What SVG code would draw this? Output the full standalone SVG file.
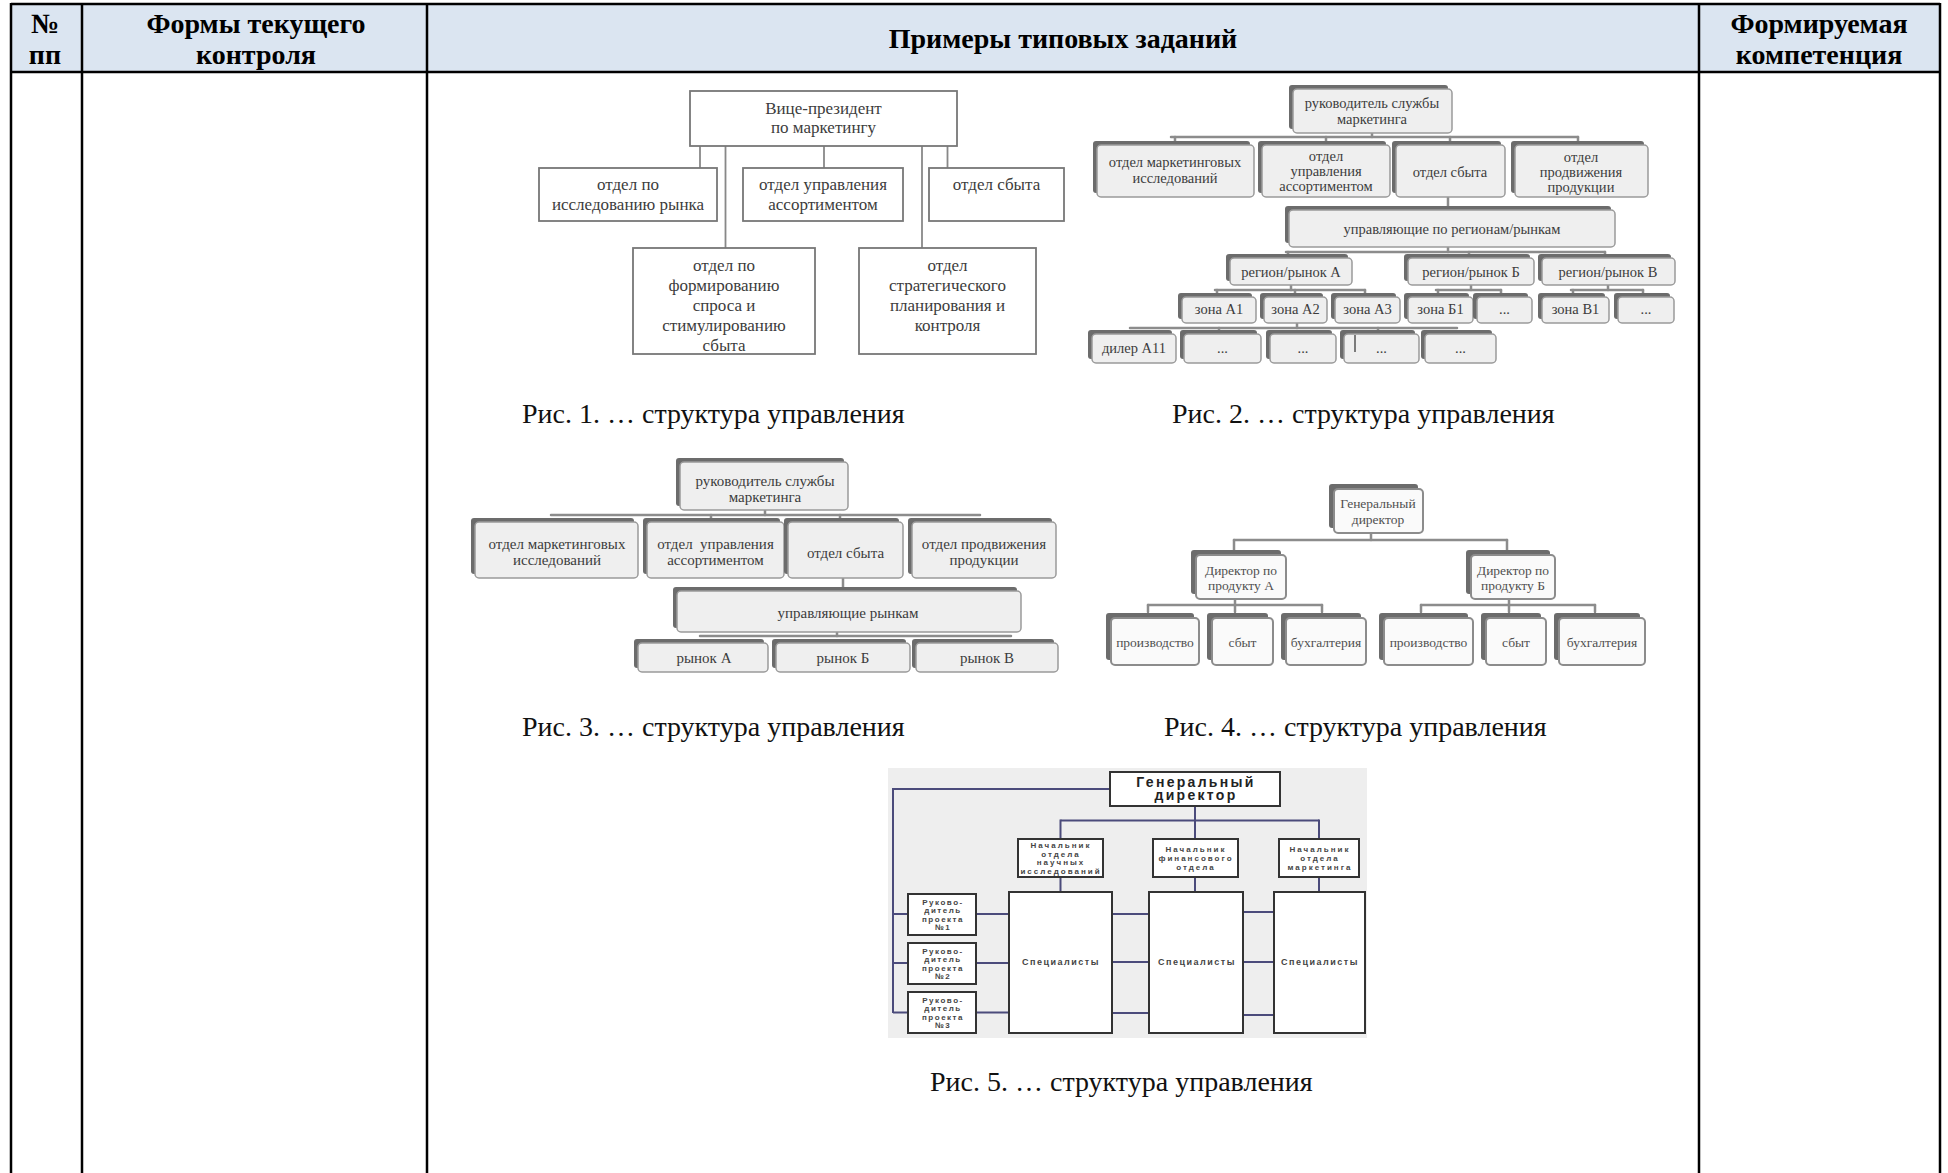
<svg xmlns="http://www.w3.org/2000/svg" width="1948" height="1173" viewBox="0 0 1948 1173">
<style>
.hd{font-family:"Liberation Serif","Times New Roman",serif;font-weight:bold;font-size:28px;fill:#000;text-anchor:middle}
.cap{font-family:"Liberation Serif","Times New Roman",serif;font-size:28px;fill:#111}
.tl{stroke:#000;stroke-width:2.5;fill:none}
.b1{fill:#fff;stroke:#777;stroke-width:1.8}
.c1{stroke:#888;stroke-width:1.8;fill:none}
.t1{font-family:"Liberation Serif","Times New Roman",serif;font-size:17px;fill:#3c3c3c;text-anchor:middle}
.sh{fill:#6c6c6c}
.b2{fill:#efefef;stroke:#9a9a9a;stroke-width:1.5}
.c2{stroke:#8c8c8c;stroke-width:2.5;stroke-linecap:round;fill:none}
.t2{font-family:"Liberation Serif","Times New Roman",serif;font-size:14.5px;fill:#3c3c3c;text-anchor:middle}
.t3{font-family:"Liberation Serif","Times New Roman",serif;font-size:15px;fill:#3c3c3c;text-anchor:middle}
.b4{fill:#fafafa;stroke:#8c8c8c;stroke-width:2}
.t4{font-family:"Liberation Serif","Times New Roman",serif;font-size:13.5px;fill:#505050;text-anchor:middle}
.b5{fill:#fff;stroke:#333;stroke-width:2}
.c5{stroke:#4b4b7b;stroke-width:2;fill:none}
.t5{font-family:"Liberation Sans",Arial,sans-serif;font-weight:bold;font-size:8px;letter-spacing:2px;fill:#444;text-anchor:middle}
.t5p{font-family:"Liberation Sans",Arial,sans-serif;font-weight:bold;font-size:8px;letter-spacing:1.5px;fill:#444;text-anchor:middle}
.t5b{font-family:"Liberation Sans",Arial,sans-serif;font-weight:bold;font-size:14px;letter-spacing:2.3px;fill:#222;text-anchor:middle}
.t5s{font-family:"Liberation Sans",Arial,sans-serif;font-weight:bold;font-size:9px;letter-spacing:1.5px;fill:#444;text-anchor:middle}
</style>

<!-- table -->
<g id="table">
<rect x="11" y="4" width="1929" height="68" fill="#dbe5f1"/>
<line class="tl" x1="11" y1="4" x2="1940" y2="4" stroke-width="3"/>
<line class="tl" x1="11" y1="72" x2="1940" y2="72"/>
<line class="tl" x1="11" y1="3" x2="11" y2="1173"/>
<line class="tl" x1="82" y1="3" x2="82" y2="1173"/>
<line class="tl" x1="427" y1="3" x2="427" y2="1173"/>
<line class="tl" x1="1699" y1="3" x2="1699" y2="1173"/>
<line class="tl" x1="1940" y1="3" x2="1940" y2="1173"/>
<text class="hd" x="45" y="33">№</text>
<text class="hd" x="45" y="64">пп</text>
<text class="hd" x="256" y="33">Формы текущего</text>
<text class="hd" x="256" y="64">контроля</text>
<text class="hd" x="1063" y="48">Примеры типовых заданий</text>
<text class="hd" x="1819" y="33">Формируемая</text>
<text class="hd" x="1819" y="64">компетенция</text>
</g>

<!-- ===== Fig 1 ===== -->
<g id="fig1-connectors">
<line class="c1" x1="700" y1="146" x2="700" y2="168"/>
<line class="c1" x1="725.5" y1="146" x2="725.5" y2="248"/>
<line class="c1" x1="824" y1="146" x2="824" y2="168"/>
<line class="c1" x1="922" y1="146" x2="922" y2="248"/>
<line class="c1" x1="947.5" y1="146" x2="947.5" y2="168"/>
</g>
<g id="f1-vp"><rect class="b1" x="690" y="91" width="267" height="55"/><text class="t1" x="823.5" y="113.5">Вице-президент</text><text class="t1" x="823.5" y="133">по маркетингу</text></g>
<g id="f1-research"><rect class="b1" x="539" y="168" width="178" height="53"/><text class="t1" x="628" y="189.5">отдел по</text><text class="t1" x="628" y="209.5">исследованию рынка</text></g>
<g id="f1-assort"><rect class="b1" x="743" y="168" width="160" height="53"/><text class="t1" x="823" y="189.5">отдел управления</text><text class="t1" x="823" y="209.5">ассортиментом</text></g>
<g id="f1-sales"><rect class="b1" x="929" y="168" width="135" height="53"/><text class="t1" x="996.5" y="189.5">отдел сбыта</text></g>
<g id="f1-demand"><rect class="b1" x="633" y="248" width="182" height="106"/><text class="t1" x="724" y="270.5">отдел по</text><text class="t1" x="724" y="290.5">формированию</text><text class="t1" x="724" y="310.5">спроса и</text><text class="t1" x="724" y="330.5">стимулированию</text><text class="t1" x="724" y="350.5">сбыта</text></g>
<g id="f1-strategy"><rect class="b1" x="859" y="248" width="177" height="106"/><text class="t1" x="947.5" y="270.5">отдел</text><text class="t1" x="947.5" y="290.5">стратегического</text><text class="t1" x="947.5" y="310.5">планирования и</text><text class="t1" x="947.5" y="330.5">контроля</text></g>
<text class="cap" x="522" y="423">Рис. 1. … структура управления</text>

<!-- ===== Fig 2 ===== -->
<g id="fig2-connectors">
<line class="c2" x1="1372" y1="133" x2="1372" y2="137"/>
<line class="c2" x1="1171" y1="137" x2="1578" y2="137"/>
<line class="c2" x1="1175" y1="137" x2="1175" y2="141"/>
<line class="c2" x1="1326" y1="137" x2="1326" y2="141"/>
<line class="c2" x1="1450" y1="137" x2="1450" y2="141"/>
<line class="c2" x1="1578" y1="137" x2="1578" y2="141"/>
<line class="c2" x1="1448" y1="197" x2="1448" y2="206"/>
<line class="c2" x1="1448" y1="247" x2="1448" y2="252"/>
<line class="c2" x1="1286" y1="252" x2="1605" y2="252"/>
<line class="c2" x1="1288" y1="252" x2="1288" y2="255"/>
<line class="c2" x1="1469" y1="252" x2="1469" y2="255"/>
<line class="c2" x1="1605" y1="252" x2="1605" y2="255"/>
<line class="c2" x1="1291" y1="285" x2="1291" y2="290"/>
<line class="c2" x1="1215" y1="290" x2="1365" y2="290"/>
<line class="c2" x1="1217" y1="290" x2="1217" y2="293"/>
<line class="c2" x1="1295" y1="290" x2="1295" y2="293"/>
<line class="c2" x1="1365" y1="290" x2="1365" y2="293"/>
<line class="c2" x1="1471" y1="285" x2="1471" y2="290"/>
<line class="c2" x1="1436" y1="290" x2="1501" y2="290"/>
<line class="c2" x1="1438" y1="290" x2="1438" y2="293"/>
<line class="c2" x1="1501" y1="290" x2="1501" y2="293"/>
<line class="c2" x1="1608" y1="285" x2="1608" y2="290"/>
<line class="c2" x1="1571" y1="290" x2="1643" y2="290"/>
<line class="c2" x1="1573" y1="290" x2="1573" y2="293"/>
<line class="c2" x1="1643" y1="290" x2="1643" y2="293"/>
<line class="c2" x1="1297" y1="323" x2="1297" y2="328"/>
<line class="c2" x1="1130" y1="328" x2="1457" y2="328"/>
<line class="c2" x1="1219" y1="328" x2="1219" y2="330"/>
<line class="c2" x1="1378" y1="328" x2="1378" y2="330"/>
</g>
<g id="f2-head"><rect class="sh" x="1289" y="85" width="159" height="44" rx="3"/><rect class="b2" x="1293" y="89" width="159" height="44" rx="4"/><text class="t2" x="1372" y="108">руководитель службы</text><text class="t2" x="1372" y="124">маркетинга</text></g>
<g id="f2-research"><rect class="sh" x="1093" y="141" width="157" height="52" rx="3"/><rect class="b2" x="1097" y="145" width="157" height="52" rx="4"/><text class="t2" x="1175" y="166.5">отдел маркетинговых</text><text class="t2" x="1175" y="182.5">исследований</text></g>
<g id="f2-assort"><rect class="sh" x="1258" y="141" width="128" height="52" rx="3"/><rect class="b2" x="1262" y="145" width="128" height="52" rx="4"/><text class="t2" x="1326" y="160.5">отдел</text><text class="t2" x="1326" y="175.5">управления</text><text class="t2" x="1326" y="191">ассортиментом</text></g>
<g id="f2-sales"><rect class="sh" x="1392" y="141" width="109" height="52" rx="3"/><rect class="b2" x="1396" y="145" width="109" height="52" rx="4"/><text class="t2" x="1450" y="176.5">отдел сбыта</text></g>
<g id="f2-promo"><rect class="sh" x="1511" y="141" width="133" height="52" rx="3"/><rect class="b2" x="1515" y="145" width="133" height="52" rx="4"/><text class="t2" x="1581" y="162">отдел</text><text class="t2" x="1581" y="177">продвижения</text><text class="t2" x="1581" y="192">продукции</text></g>
<g id="f2-managers"><rect class="sh" x="1285" y="206" width="326" height="37" rx="3"/><rect class="b2" x="1289" y="210" width="326" height="37" rx="4"/><text class="t2" x="1452" y="233.5">управляющие по регионам/рынкам</text></g>
<g id="f2-regA"><rect class="sh" x="1226" y="254" width="122" height="27" rx="3"/><rect class="b2" x="1230" y="258" width="122" height="27" rx="4"/><text class="t2" x="1291" y="277">регион/рынок А</text></g>
<g id="f2-regB"><rect class="sh" x="1404" y="254" width="126" height="27" rx="3"/><rect class="b2" x="1408" y="258" width="126" height="27" rx="4"/><text class="t2" x="1471" y="277">регион/рынок Б</text></g>
<g id="f2-regV"><rect class="sh" x="1538" y="254" width="133" height="27" rx="3"/><rect class="b2" x="1542" y="258" width="133" height="27" rx="4"/><text class="t2" x="1608" y="277">регион/рынок В</text></g>
<g id="f2-zA1"><rect class="sh" x="1178" y="293" width="74" height="26" rx="3"/><rect class="b2" x="1182" y="297" width="74" height="26" rx="4"/><text class="t2" x="1219" y="314">зона А1</text></g>
<g id="f2-zA2"><rect class="sh" x="1260" y="293" width="63" height="26" rx="3"/><rect class="b2" x="1264" y="297" width="63" height="26" rx="4"/><text class="t2" x="1295.5" y="314">зона А2</text></g>
<g id="f2-zA3"><rect class="sh" x="1331" y="293" width="65" height="26" rx="3"/><rect class="b2" x="1335" y="297" width="65" height="26" rx="4"/><text class="t2" x="1367.5" y="314">зона А3</text></g>
<g id="f2-zB1"><rect class="sh" x="1404" y="293" width="65" height="26" rx="3"/><rect class="b2" x="1408" y="297" width="65" height="26" rx="4"/><text class="t2" x="1440.5" y="314">зона Б1</text></g>
<g id="f2-zB2"><rect class="sh" x="1473" y="293" width="55" height="26" rx="3"/><rect class="b2" x="1477" y="297" width="55" height="26" rx="4"/><text class="t2" x="1504.5" y="314">...</text></g>
<g id="f2-zV1"><rect class="sh" x="1538" y="293" width="67" height="26" rx="3"/><rect class="b2" x="1542" y="297" width="67" height="26" rx="4"/><text class="t2" x="1575.5" y="314">зона В1</text></g>
<g id="f2-zV2"><rect class="sh" x="1614" y="293" width="56" height="26" rx="3"/><rect class="b2" x="1618" y="297" width="56" height="26" rx="4"/><text class="t2" x="1646" y="314">...</text></g>
<g id="f2-d1"><rect class="sh" x="1088" y="330" width="84" height="29" rx="3"/><rect class="b2" x="1092" y="334" width="84" height="29" rx="4"/><text class="t2" x="1134" y="352.5">дилер А11</text></g>
<g id="f2-d2"><rect class="sh" x="1180" y="330" width="77" height="29" rx="3"/><rect class="b2" x="1184" y="334" width="77" height="29" rx="4"/><text class="t2" x="1222.5" y="352.5">...</text></g>
<g id="f2-d3"><rect class="sh" x="1266" y="330" width="66" height="29" rx="3"/><rect class="b2" x="1270" y="334" width="66" height="29" rx="4"/><text class="t2" x="1303" y="352.5">...</text></g>
<g id="f2-d4"><rect class="sh" x="1340" y="330" width="75" height="29" rx="3"/><rect class="b2" x="1344" y="334" width="75" height="29" rx="4"/><line x1="1355" y1="335" x2="1355" y2="352" stroke="#555" stroke-width="1.5"/><text class="t2" x="1381.5" y="352.5">...</text></g>
<g id="f2-d5"><rect class="sh" x="1421" y="330" width="71" height="29" rx="3"/><rect class="b2" x="1425" y="334" width="71" height="29" rx="4"/><text class="t2" x="1460.5" y="352.5">...</text></g>
<text class="cap" x="1172" y="423">Рис. 2. … структура управления</text>

<!-- ===== Fig 3 ===== -->
<g id="fig3-connectors">
<line class="c2" x1="765" y1="510" x2="765" y2="515"/>
<line class="c2" x1="551" y1="515" x2="980" y2="515"/>
<line class="c2" x1="711" y1="515" x2="711" y2="518"/>
<line class="c2" x1="840" y1="515" x2="840" y2="518"/>
<line class="c2" x1="843" y1="578" x2="843" y2="587"/>
<line class="c2" x1="837" y1="632" x2="837" y2="636"/>
<line class="c2" x1="700" y1="636" x2="1011" y2="636"/>
</g>
<g id="f3-head"><rect class="sh" x="676" y="458" width="168" height="48" rx="3"/><rect class="b2" x="680" y="462" width="168" height="48" rx="4"/><text class="t3" x="765" y="485.5">руководитель службы</text><text class="t3" x="765" y="501.5">маркетинга</text></g>
<g id="f3-research"><rect class="sh" x="471" y="518" width="163" height="56" rx="3"/><rect class="b2" x="475" y="522" width="163" height="56" rx="4"/><text class="t3" x="557" y="548.5">отдел маркетинговых</text><text class="t3" x="557" y="565">исследований</text></g>
<g id="f3-assort"><rect class="sh" x="643" y="518" width="137" height="56" rx="3"/><rect class="b2" x="647" y="522" width="137" height="56" rx="4"/><text class="t3" x="715.5" y="548.5" xml:space="preserve">отдел  управления</text><text class="t3" x="715.5" y="565">ассортиментом</text></g>
<g id="f3-sales"><rect class="sh" x="784" y="518" width="115" height="56" rx="3"/><rect class="b2" x="788" y="522" width="115" height="56" rx="4"/><text class="t3" x="845.5" y="557.5">отдел сбыта</text></g>
<g id="f3-promo"><rect class="sh" x="908" y="518" width="144" height="56" rx="3"/><rect class="b2" x="912" y="522" width="144" height="56" rx="4"/><text class="t3" x="984" y="548.5">отдел продвижения</text><text class="t3" x="984" y="565">продукции</text></g>
<g id="f3-managers"><rect class="sh" x="673" y="587" width="344" height="41" rx="3"/><rect class="b2" x="677" y="591" width="344" height="41" rx="4"/><text class="t3" x="848" y="618">управляющие рынкам</text></g>
<g id="f3-mA"><rect class="sh" x="634" y="639" width="130" height="29" rx="3"/><rect class="b2" x="638" y="643" width="130" height="29" rx="4"/><text class="t3" x="704" y="663">рынок А</text></g>
<g id="f3-mB"><rect class="sh" x="772" y="639" width="134" height="29" rx="3"/><rect class="b2" x="776" y="643" width="134" height="29" rx="4"/><text class="t3" x="843" y="663">рынок Б</text></g>
<g id="f3-mV"><rect class="sh" x="912" y="639" width="142" height="29" rx="3"/><rect class="b2" x="916" y="643" width="142" height="29" rx="4"/><text class="t3" x="987" y="663">рынок В</text></g>
<text class="cap" x="522" y="736">Рис. 3. … структура управления</text>

<!-- ===== Fig 4 ===== -->
<g id="fig4-connectors">
<line class="c2" x1="1371" y1="533" x2="1371" y2="540"/>
<line class="c2" x1="1234" y1="540" x2="1507" y2="540"/>
<line class="c2" x1="1234" y1="540" x2="1234" y2="550"/>
<line class="c2" x1="1507" y1="540" x2="1507" y2="550"/>
<line class="c2" x1="1235" y1="599" x2="1235" y2="612"/>
<line class="c2" x1="1148" y1="605" x2="1322" y2="605"/>
<line class="c2" x1="1148" y1="605" x2="1148" y2="612"/>
<line class="c2" x1="1322" y1="605" x2="1322" y2="612"/>
<line class="c2" x1="1509" y1="599" x2="1509" y2="612"/>
<line class="c2" x1="1421" y1="605" x2="1595" y2="605"/>
<line class="c2" x1="1421" y1="605" x2="1421" y2="612"/>
<line class="c2" x1="1595" y1="605" x2="1595" y2="612"/>
</g>
<g id="f4-ceo"><rect class="sh" x="1329" y="484" width="89" height="44" rx="3"/><rect class="b4" x="1334" y="489" width="89" height="44" rx="4"/><text class="t4" x="1378" y="507.5">Генеральный</text><text class="t4" x="1378" y="523.5">директор</text></g>
<g id="f4-dirA"><rect class="sh" x="1191" y="550" width="90" height="44" rx="3"/><rect class="b4" x="1196" y="555" width="90" height="44" rx="4"/><text class="t4" x="1241" y="574.5">Директор по</text><text class="t4" x="1241" y="589.5">продукту А</text></g>
<g id="f4-dirB"><rect class="sh" x="1466" y="550" width="84" height="44" rx="3"/><rect class="b4" x="1471" y="555" width="84" height="44" rx="4"/><text class="t4" x="1513" y="574.5">Директор по</text><text class="t4" x="1513" y="589.5">продукту Б</text></g>
<g id="f4-a1"><rect class="sh" x="1106" y="613" width="88" height="47" rx="3"/><rect class="b4" x="1111" y="618" width="88" height="47" rx="4"/><text class="t4" x="1155" y="647">производство</text></g>
<g id="f4-a2"><rect class="sh" x="1207" y="613" width="61" height="47" rx="3"/><rect class="b4" x="1212" y="618" width="61" height="47" rx="4"/><text class="t4" x="1242.5" y="647">сбыт</text></g>
<g id="f4-a3"><rect class="sh" x="1281" y="613" width="80" height="47" rx="3"/><rect class="b4" x="1286" y="618" width="80" height="47" rx="4"/><text class="t4" x="1326" y="647">бухгалтерия</text></g>
<g id="f4-b1"><rect class="sh" x="1379" y="613" width="89" height="47" rx="3"/><rect class="b4" x="1384" y="618" width="89" height="47" rx="4"/><text class="t4" x="1428.5" y="647">производство</text></g>
<g id="f4-b2"><rect class="sh" x="1481" y="613" width="60" height="47" rx="3"/><rect class="b4" x="1486" y="618" width="60" height="47" rx="4"/><text class="t4" x="1516" y="647">сбыт</text></g>
<g id="f4-b3"><rect class="sh" x="1554" y="613" width="86" height="47" rx="3"/><rect class="b4" x="1559" y="618" width="86" height="47" rx="4"/><text class="t4" x="1602" y="647">бухгалтерия</text></g>
<text class="cap" x="1164" y="736">Рис. 4. … структура управления</text>

<!-- ===== Fig 5 ===== -->
<rect x="888" y="768" width="479" height="270" fill="#eeeeee"/>
<g id="fig5-connectors">
<line class="c5" x1="893" y1="789" x2="1110" y2="789"/>
<line class="c5" x1="893" y1="788" x2="893" y2="1013"/>
<line class="c5" x1="893" y1="914" x2="908" y2="914"/>
<line class="c5" x1="893" y1="963" x2="908" y2="963"/>
<line class="c5" x1="893" y1="1012.5" x2="908" y2="1012.5"/>
<line class="c5" x1="1195" y1="806" x2="1195" y2="839"/>
<line class="c5" x1="1060.5" y1="820.5" x2="1319" y2="820.5"/>
<line class="c5" x1="1060.5" y1="819.5" x2="1060.5" y2="839"/>
<line class="c5" x1="1319" y1="819.5" x2="1319" y2="839"/>
<line class="c5" x1="1060.5" y1="877" x2="1060.5" y2="892"/>
<line class="c5" x1="1195" y1="877" x2="1195" y2="892"/>
<line class="c5" x1="1319" y1="877" x2="1319" y2="892"/>
<line class="c5" x1="976" y1="914" x2="1009" y2="914"/>
<line class="c5" x1="976" y1="963" x2="1009" y2="963"/>
<line class="c5" x1="976" y1="1012.5" x2="1009" y2="1012.5"/>
<line class="c5" x1="1112" y1="914" x2="1149" y2="914"/>
<line class="c5" x1="1112" y1="962" x2="1149" y2="962"/>
<line class="c5" x1="1112" y1="1013" x2="1149" y2="1013"/>
<line class="c5" x1="1243" y1="912" x2="1274" y2="912"/>
<line class="c5" x1="1243" y1="962" x2="1274" y2="962"/>
<line class="c5" x1="1243" y1="1015" x2="1274" y2="1015"/>
</g>
<g id="f5-ceo"><rect class="b5" x="1110" y="772" width="170" height="34"/><text class="t5b" x="1196" y="787">Генеральный</text><text class="t5b" x="1196" y="800">директор</text></g>
<g id="f5-sci"><rect class="b5" x="1018" y="839" width="85" height="38"/><text class="t5" x="1061" y="848">Начальник</text><text class="t5" x="1061" y="856.5">отдела</text><text class="t5" x="1061" y="865">научных</text><text class="t5" x="1061" y="873.5">исследований</text></g>
<g id="f5-fin"><rect class="b5" x="1153" y="839" width="85" height="38"/><text class="t5" x="1196" y="852">Начальник</text><text class="t5" x="1196" y="861">финансового</text><text class="t5" x="1196" y="870">отдела</text></g>
<g id="f5-mkt"><rect class="b5" x="1279" y="839" width="80" height="38"/><text class="t5" x="1320" y="852">Начальник</text><text class="t5" x="1320" y="861">отдела</text><text class="t5" x="1320" y="870">маркетинга</text></g>
<g id="f5-spec1"><rect class="b5" x="1009" y="892" width="103" height="141"/><text class="t5s" x="1061" y="965">Специалисты</text></g>
<g id="f5-spec2"><rect class="b5" x="1149" y="892" width="94" height="141"/><text class="t5s" x="1197" y="965">Специалисты</text></g>
<g id="f5-spec3"><rect class="b5" x="1274" y="892" width="91" height="141"/><text class="t5s" x="1320" y="965">Специалисты</text></g>
<g id="f5-p1"><rect class="b5" x="908" y="894" width="68" height="41"/><text class="t5p" x="943" y="904.5">Руково-</text><text class="t5p" x="943" y="913">дитель</text><text class="t5p" x="943" y="921.5">проекта</text><text class="t5p" x="943" y="930">№1</text></g>
<g id="f5-p2"><rect class="b5" x="908" y="943" width="68" height="41"/><text class="t5p" x="943" y="953.5">Руково-</text><text class="t5p" x="943" y="962">дитель</text><text class="t5p" x="943" y="970.5">проекта</text><text class="t5p" x="943" y="979">№2</text></g>
<g id="f5-p3"><rect class="b5" x="908" y="992" width="68" height="41"/><text class="t5p" x="943" y="1002.5">Руково-</text><text class="t5p" x="943" y="1011">дитель</text><text class="t5p" x="943" y="1019.5">проекта</text><text class="t5p" x="943" y="1028">№3</text></g>
<text class="cap" x="930" y="1091">Рис. 5. … структура управления</text>
</svg>
